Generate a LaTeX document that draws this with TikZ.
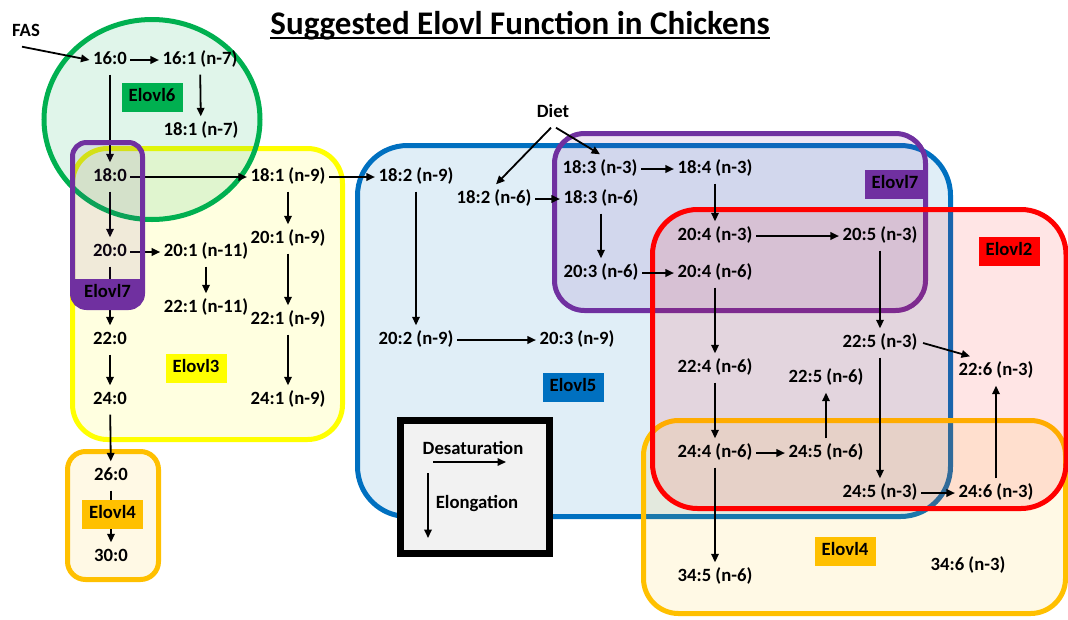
\documentclass[tikz,border=0pt]{standalone}
\usepackage{fontspec}
\setmainfont{Carlito}
\usetikzlibrary{arrows.meta}
\definecolor{cgreen}{HTML}{00B050}
\definecolor{cyellow}{HTML}{FFFF00}
\definecolor{cpurple}{HTML}{7030A0}
\definecolor{cblue}{HTML}{0070C0}
\definecolor{cred}{HTML}{FF0000}
\definecolor{corange}{HTML}{FFC000}
\definecolor{lgray}{HTML}{F2F2F2}
\begin{document}
\begin{tikzpicture}[x=1pt,y=-1pt,
  fa/.style={font=\bfseries\fontsize{18.7}{20}\selectfont, inner xsep=3.5pt, inner ysep=6pt, text height=13pt, text depth=4pt},
  arr/.style={-{Triangle[length=8.5pt,width=7.5pt]}, line width=1.8pt},
  lab/.style={fa, fill=#1, minimum width=61pt, minimum height=29pt, inner sep=0pt},
  region/.style={line width=5pt, fill opacity=0.12}
]
\useasboundingbox (0,0) rectangle (1068,619);

% regions
\draw[region, draw=cyellow, fill=cyellow, rounded corners=35pt] (72.5,148.5) rectangle (342.5,439.5);
\draw[region, draw=cgreen, fill=cgreen] (152,119.5) ellipse [x radius=108, y radius=100];
\draw[region, draw=corange, fill=corange, fill opacity=0.1, rounded corners=18pt] (67.5,451.5) rectangle (158.5,579.5);
\draw[region, draw=cblue, fill=cblue, rounded corners=50pt] (357.5,145.5) rectangle (950.5,516.5);
\draw[region, draw=cpurple, fill=cpurple, rounded corners=30pt] (554.5,133.5) rectangle (925.5,310.5);
\draw[region, draw=corange, fill=corange, fill opacity=0.1, rounded corners=35pt] (643.5,420.5) rectangle (1065.5,613.5);
\draw[region, draw=cred, fill=cred, fill opacity=0.1, rounded corners=45pt] (652.5,209.5) rectangle (1066,508.5);

% legend
\node[draw=black, line width=7pt, fill=lgray, minimum width=149pt, minimum height=133pt, inner sep=0pt] (legend) at (474.5,486.5) {};
\node[fa] (desat) at (473,450) {Desaturation};
\node[fa] (elong) at (477,504) {Elongation};
\coordinate (d1) at (433,462);
\coordinate (d2) at (506,462);
\coordinate (e1) at (428,473);
\coordinate (e2) at (428,538);
\draw[arr] (d1) -- (d2);
\draw[arr] (e1) -- (e2);

% title
\node[font=\bfseries\fontsize{33}{36}\selectfont, inner sep=0pt, anchor=base] (title) at (520,34) {Suggested Elovl Function in Chickens};
\draw[line width=2pt] ([yshift=-4pt]title.base west) -- ([yshift=-4pt]title.base east);

% fatty acid nodes
\node[fa] (fas) at (26,32) {FAS};
\node[fa] (n160) at (110,60) {16:0};
\node[fa] (n161) at (200,60) {16:1 (n-7)};
\node[fa] (n181a) at (201,131) {18:1 (n-7)};
\node[fa] (n180) at (110,177) {18:0};
\node[fa] (n181) at (288,177) {18:1 (n-9)};
\node[fa] (n200) at (110,252) {20:0};
\node[fa] (n201e) at (206,252) {20:1 (n-11)};
\node[fa] (n201) at (288,239) {20:1 (n-9)};
\node[fa] (n221e) at (206,308) {22:1 (n-11)};
\node[fa] (n221) at (288,320) {22:1 (n-9)};
\node[fa] (n220) at (110,340) {22:0};
\node[fa] (n240) at (110,400) {24:0};
\node[fa] (n241) at (288,400) {24:1 (n-9)};
\node[fa] (n260) at (111,476) {26:0};
\node[fa] (n300) at (111,557) {30:0};
\node[fa] (n182n9) at (416,177) {18:2 (n-9)};
\node[fa] (diet) at (553,113) {Diet};
\node[fa] (n182n6) at (494,199) {18:2 (n-6)};
\node[fa] (n183n3) at (600,169) {18:3 (n-3)};
\node[fa] (n183n6) at (601,199) {18:3 (n-6)};
\node[fa] (n184) at (715,169) {18:4 (n-3)};
\node[fa] (n203n6) at (601,273) {20:3 (n-6)};
\node[fa] (n204n6) at (715,273) {20:4 (n-6)};
\node[fa] (n204n3) at (715,236) {20:4 (n-3)};
\node[fa] (n205) at (880,236) {20:5 (n-3)};
\node[fa] (n202) at (416,340) {20:2 (n-9)};
\node[fa] (n203n9) at (577,340) {20:3 (n-9)};
\node[fa] (n224) at (715,368) {22:4 (n-6)};
\node[fa] (n225n3) at (880,343) {22:5 (n-3)};
\node[fa] (n225n6) at (826,378) {22:5 (n-6)};
\node[fa] (n226) at (996,371) {22:6 (n-3)};
\node[fa] (n244) at (715,453) {24:4 (n-6)};
\node[fa] (n245n6) at (826,453) {24:5 (n-6)};
\node[fa] (n245n3) at (880,493) {24:5 (n-3)};
\node[fa] (n246) at (996,493) {24:6 (n-3)};
\node[fa] (n345) at (715,577) {34:5 (n-6)};
\node[fa] (n346) at (968,566) {34:6 (n-3)};

% arrows
\draw[arr] ([xshift=-4pt]fas.south) -- (n160.west);
\draw[arr] (n160) -- (n161);
\draw[arr] (n161) -- (n181a);
\draw[arr] (n160) -- (n180);
\draw[arr] (n180) -- (n181);
\draw[arr] (n180) -- (n200);
\draw[arr] (n200) -- (n201e);
\draw[arr] (n200) -- (n220);
\draw[arr] (n220) -- (n240);
\draw[arr] (n240) -- (n260);
\draw[arr] (n260) -- (n300);
\draw[arr] (n181) -- (n201);
\draw[arr] (n201) -- (n221);
\draw[arr] (n221) -- (n241);
\draw[arr] (n201e) -- (n221e);
\draw[arr] (n181) -- (n182n9);
\draw[arr] (n182n9) -- (n202);
\draw[arr] (n202) -- (n203n9);
\draw[arr] ([xshift=-2pt]diet.south) -- ([xshift=2pt]n182n6.north);
\draw[arr] ([xshift=3pt]diet.south) -- (n183n3.north);
\draw[arr] (n182n6) -- (n183n6);
\draw[arr] (n183n3) -- (n184);
\draw[arr] (n183n6) -- (n203n6);
\draw[arr] (n203n6) -- (n204n6);
\draw[arr] (n184) -- (n204n3);
\draw[arr] (n204n3) -- (n205);
\draw[arr] (n205) -- (n225n3);
\draw[arr] (n204n6) -- (n224);
\draw[arr] ([xshift=2pt]n225n3.east) -- ([xshift=-26pt]n226.north);
\draw[arr] (n225n3) -- (n245n3);
\draw[arr] (n224) -- (n244);
\draw[arr] (n244) -- (n245n6);
\draw[arr] (n245n6) -- (n225n6);
\draw[arr] (n245n3) -- (n246);
\draw[arr] (n246) -- (n226);
\draw[arr] (n244) -- (n345);

% small Elovl7 box over arrows
\begin{scope}
  \clip[rounded corners=14pt] (72.5,142.5) rectangle (142.5,307.5);
  \fill[cpurple] (72.5,279) rectangle (142.5,307.5);
\end{scope}
\draw[line width=5pt, draw=cpurple, fill=cpurple, fill opacity=0.1, rounded corners=14pt] (72.5,142.5) rectangle (142.5,307.5);
\node[fa] (l7s) at (107.5,293) {Elovl7};

% enzyme labels
\node[lab=cgreen] (l6) at (152,97) {Elovl6};
\node[lab=cyellow] (l3) at (196,368) {Elovl3};
\node[lab=corange] (l4s) at (112.5,514) {Elovl4};
\node[lab=cblue] (l5) at (573,387) {Elovl5};
\node[lab=cpurple] (l7) at (895,184) {Elovl7};
\node[lab=cred] (l2) at (1009,251) {Elovl2};
\node[lab=corange] (l4) at (845,551) {Elovl4};
\end{tikzpicture}
\end{document}
